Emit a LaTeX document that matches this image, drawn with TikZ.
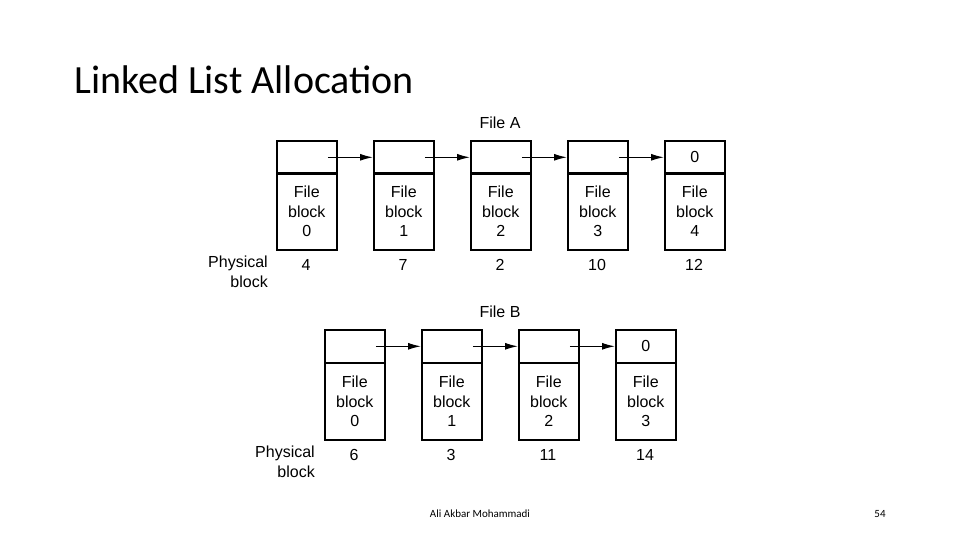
\documentclass[tikz,border=0pt]{standalone}
\usepackage{fontspec}
\setmainfont{Liberation Sans}
\newfontfamily\titlefont{Carlito}
\usetikzlibrary{arrows.meta}
\begin{document}
\begin{tikzpicture}[x=1pt,y=-1pt,
  top/.style={draw,line width=1.6pt,minimum width=60pt,minimum height=33pt,inner sep=0pt,font=\fontsize{16}{19}\selectfont,anchor=north west},
  bot/.style={draw,line width=1.6pt,minimum width=60pt,minimum height=77pt,inner sep=0pt,align=center,font=\fontsize{16}{19.5}\selectfont,anchor=north west},
  lab/.style={font=\fontsize{16}{20}\selectfont,align=right,inner sep=0pt},
  arr/.style={-{Latex[length=13pt,width=7pt]},line width=1.3pt}]
\useasboundingbox (0,0) rectangle (960,540);
\node[anchor=west,inner sep=0pt,font=\titlefont\fontsize{40}{46}\selectfont] (title) at (74,80) {Linked List Allocation};
% File A
\node[font=\fontsize{16}{19}\selectfont] (fa) at (500,123) {File A};
\foreach \i/\x/\t/\p in {0/276//4,1/373//7,2/470//2,3/567//10,4/664/0/12}{
  \node[top] (a\i t) at (\x,140) {\t};
  \node[bot] (a\i b) at (\x,172) {File\\block\\\i};
  \node[lab] (a\i p) at (\x+30,265) {\p};
}
\node[lab,anchor=north east] (pa) at (268,256) {Physical\\block};
\foreach \i/\j in {0/1,1/2,2/3,3/4}{
  \coordinate (sa\i) at ([xshift=21pt]a\i t.center);
  \draw[arr] (sa\i) -- (a\j t.west);
}
% File B
\node[font=\fontsize{16}{19}\selectfont] (fb) at (500,312) {File B};
\foreach \i/\x/\t/\p in {0/324//6,1/421//3,2/518//11,3/615/0/14}{
  \node[top] (b\i t) at (\x,329) {\t};
  \node[bot] (b\i b) at (\x,362) {File\\block\\\i};
  \node[lab] (b\i p) at (\x+30,455) {\p};
}
\node[lab,anchor=north east] (pb) at (315,446) {Physical\\block};
\foreach \i/\j in {0/1,1/2,2/3}{
  \coordinate (sb\i) at ([xshift=21pt]b\i t.center);
  \draw[arr] (sb\i) -- (b\j t.west);
}
\node[font=\titlefont\fontsize{11}{13}\selectfont] (auth) at (480,514) {Ali Akbar Mohammadi};
\node[font=\titlefont\fontsize{11}{13}\selectfont] (pg) at (880,514) {54};
\end{tikzpicture}
\end{document}
